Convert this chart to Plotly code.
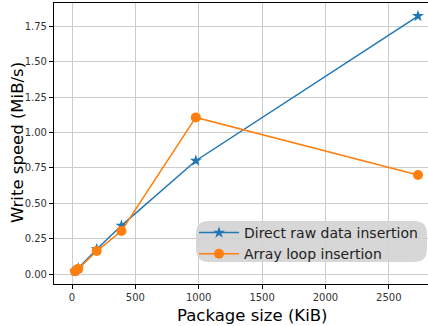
import plotly.graph_objects as go

package_kib = [24, 49, 195, 390, 977, 2730]
direct_raw = [0.02, 0.04, 0.175, 0.342, 0.80, 1.822]
array_loop = [0.02, 0.036, 0.162, 0.304, 1.106, 0.699]
series_names = ["Direct raw data insertion", "Array loop insertion"]
x_ticks = [0, 500, 1000, 1500, 2000, 2500]
y_ticks = [0.0, 0.25, 0.5, 0.75, 1.0, 1.25, 1.5, 1.75]
x_title = "Package size (KiB)"
y_title = "Write speed (MiB/s)"

BLUE = "#1f77b4"
ORANGE = "#ff7f0e"
FONT = "DejaVu Sans"

W, H = 428, 326
ML, MR, MT, MB = 54, 0, 3, 42
PW, PH = W - ML - MR, H - MT - MB

fig = go.Figure()
fig.add_trace(go.Scatter(
    x=package_kib, y=direct_raw, mode="lines+markers", name=series_names[0],
    line=dict(color=BLUE, width=1.5),
    marker=dict(symbol="star", size=9, color=BLUE),
))
fig.add_trace(go.Scatter(
    x=package_kib, y=array_loop, mode="lines+markers", name=series_names[1],
    line=dict(color=ORANGE, width=1.5),
    marker=dict(symbol="circle", size=10, color=ORANGE),
))

axis_common = dict(
    showgrid=True, gridcolor="#cccccc", gridwidth=1,
    showline=True, linecolor="black", linewidth=1.2, mirror=True,
    ticks="outside", ticklen=4, tickcolor="black", tickwidth=1,
    zeroline=False,
    tickfont=dict(family=FONT, size=10, color="#333333"),
)


def px(x):
    return (x - ML) / PW


def py(y):
    return (H - MB - y) / PH


fig.update_layout(
    width=W, height=H,
    margin=dict(l=ML, r=MR, t=MT, b=MB, autoexpand=False),
    paper_bgcolor="white", plot_bgcolor="white",
    font=dict(family=FONT),
    xaxis=dict(axis_common, range=[-142, 2809], tickvals=x_ticks,
               ticktext=[str(v) for v in x_ticks]),
    yaxis=dict(axis_common, range=[-0.0706, 1.914], tickvals=y_ticks,
               ticktext=[f"{v:.2f}" for v in y_ticks]),
    legend=dict(
        x=px(194), y=py(217), xanchor="left", yanchor="top",
        bgcolor="rgba(0,0,0,0)", borderwidth=0,
        font=dict(family=FONT, size=14, color="#222222"),
        tracegroupgap=0, itemwidth=40,
    ),
    showlegend=True,
)

fig.add_annotation(text=x_title, xref="paper", yref="paper",
                   x=px(252), y=py(315), xanchor="center", yanchor="middle",
                   showarrow=False, font=dict(family=FONT, size=16.5, color="black"))
fig.add_annotation(text=y_title, xref="paper", yref="paper", textangle=-90,
                   x=px(17), y=py(143), xanchor="center", yanchor="middle",
                   showarrow=False, font=dict(family=FONT, size=16.5, color="black"))

# rounded legend frame (pixel geometry converted to paper coords)
x0, x1 = 196, 427
y0, y1 = 221, 262
r = 13
pts = [
    ("M", (x0 + r, y0)), ("L", (x1 - r, y0)), ("Q", (x1, y0), (x1, y0 + r)),
    ("L", (x1, y1 - r)), ("Q", (x1, y1), (x1 - r, y1)), ("L", (x0 + r, y1)),
    ("Q", (x0, y1), (x0, y1 - r)), ("L", (x0, y0 + r)), ("Q", (x0, y0), (x0 + r, y0)),
]
segs = []
for item in pts:
    coords = " ".join(f"{px(a):.5f},{py(b):.5f}" for a, b in item[1:])
    segs.append(f"{item[0]} {coords}")
path = " ".join(segs) + " Z"
fig.add_shape(type="path", path=path, xref="paper", yref="paper",
              layer="above", fillcolor="rgba(211,211,211,0.9)", line=dict(width=0))

fig.write_html("out.html", config={"displayModeBar": False},
               post_script="document.body.style.margin='0';document.body.style.overflow='hidden';")
